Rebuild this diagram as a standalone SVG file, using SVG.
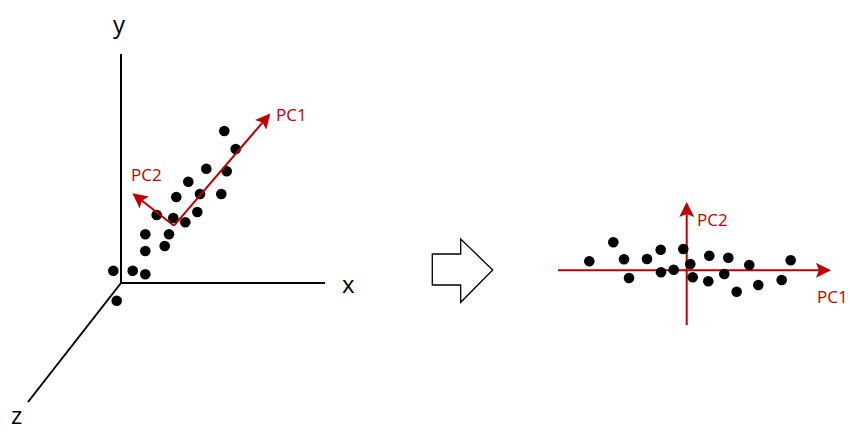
<svg xmlns="http://www.w3.org/2000/svg" width="850" height="431" viewBox="0 0 850 431">
<style>
.ax{stroke:#000;stroke-width:2;fill:none}
.pc{stroke:#C00000;stroke-width:2;fill:none}
.dot{fill:#000}
.lbl{font-family:"Open Sans","Liberation Sans",sans-serif;font-size:24px;fill:#000}
.pcl{font-family:"Open Sans","Liberation Sans",sans-serif;font-size:17px;fill:#C00000}
</style>
<defs>
<marker id="ah2" markerWidth="15" markerHeight="15" refX="13" refY="7.5" orient="auto" markerUnits="userSpaceOnUse" viewBox="0 0 15 15">
<path d="M0,0 L15,7.5 L0,15 L3,7.5 Z" fill="#C00000"/>
</marker>
</defs>
<g id="axes3d">
<line class="ax" x1="121" y1="54" x2="121" y2="283"/>
<line class="ax" x1="120" y1="283" x2="325" y2="283"/>
<line class="ax" x1="121" y1="283" x2="28" y2="402"/>
<text class="lbl" x="113" y="33">y</text>
<text class="lbl" x="342" y="293">x</text>
<text class="lbl" x="11" y="424">z</text>
</g>
<g id="points3d" class="dot">
<circle cx="224.3" cy="131" r="5.3"/>
<circle cx="235.7" cy="149" r="5.3"/>
<circle cx="206.3" cy="168.7" r="5.3"/>
<circle cx="226.7" cy="171.3" r="5.3"/>
<circle cx="188.3" cy="181.7" r="5.3"/>
<circle cx="200" cy="194" r="5.3"/>
<circle cx="221.3" cy="194" r="5.3"/>
<circle cx="176.3" cy="197" r="5.3"/>
<circle cx="156.7" cy="215" r="5.3"/>
<circle cx="173.3" cy="218" r="5.3"/>
<circle cx="185.3" cy="222.3" r="5.3"/>
<circle cx="197.3" cy="212" r="5.3"/>
<circle cx="145.3" cy="234.3" r="5.3"/>
<circle cx="169" cy="234.3" r="5.3"/>
<circle cx="145.3" cy="251" r="5.3"/>
<circle cx="164.7" cy="246" r="5.3"/>
<circle cx="113.3" cy="270.7" r="5.3"/>
<circle cx="132.7" cy="270.7" r="5.3"/>
<circle cx="145.3" cy="274.3" r="5.3"/>
<circle cx="116.7" cy="300.7" r="5.3"/>
</g>
<g id="pcs3d">
<line class="pc" x1="174" y1="225.7" x2="269" y2="115" marker-end="url(#ah2)"/>
<line class="pc" x1="174" y1="225.7" x2="134" y2="194.5" marker-end="url(#ah2)"/>
<text class="pcl" x="276" y="121">PC1</text>
<text class="pcl" x="131" y="181">PC2</text>
</g>
<g id="bigarrow">
<polygon points="432.3,254 460.7,254 460.7,239 492.7,270 460.7,302.3 460.7,285 432.3,285" fill="#fff" stroke="#000" stroke-width="1.3"/>
</g>
<g id="pcs2d">
<line class="pc" x1="558" y1="270.3" x2="829" y2="270.3" marker-end="url(#ah2)"/>
<line class="pc" x1="686.7" y1="325" x2="686.7" y2="204" marker-end="url(#ah2)"/>
<text class="pcl" x="697" y="226">PC2</text>
<text class="pcl" x="817" y="303">PC1</text>
</g>
<g id="points2d" class="dot">
<circle cx="589.3" cy="261.3" r="5.3"/>
<circle cx="613.3" cy="242.3" r="5.3"/>
<circle cx="624" cy="259.3" r="5.3"/>
<circle cx="629" cy="278" r="5.3"/>
<circle cx="647" cy="259" r="5.3"/>
<circle cx="660.7" cy="249.7" r="5.3"/>
<circle cx="661" cy="272.3" r="5.3"/>
<circle cx="673.7" cy="269.7" r="5.3"/>
<circle cx="683.3" cy="249" r="5.3"/>
<circle cx="690.3" cy="264" r="5.3"/>
<circle cx="692.7" cy="277.3" r="5.3"/>
<circle cx="709.3" cy="255.7" r="5.3"/>
<circle cx="708.3" cy="281.3" r="5.3"/>
<circle cx="728.3" cy="257.7" r="5.3"/>
<circle cx="724.3" cy="274" r="5.3"/>
<circle cx="749.3" cy="265" r="5.3"/>
<circle cx="736.7" cy="291.7" r="5.3"/>
<circle cx="758.3" cy="285" r="5.3"/>
<circle cx="781.7" cy="280" r="5.3"/>
<circle cx="790.7" cy="260.3" r="5.3"/>
</g>
</svg>
